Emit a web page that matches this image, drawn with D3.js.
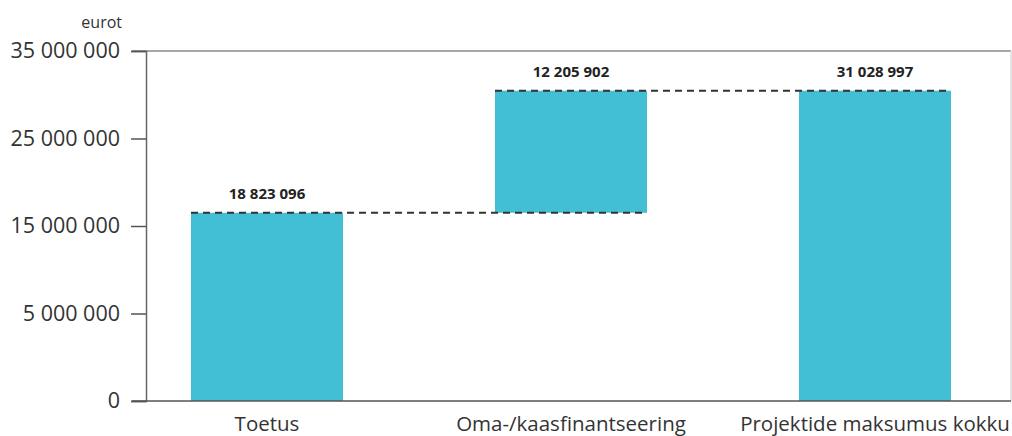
<!DOCTYPE html>
<html>
<head>
<meta charset="utf-8">
<script src="https://cdn.jsdelivr.net/npm/d3@7"></script>
<style>
  html, body { margin: 0; padding: 0; background: #fff; }
  svg { display: block; font-family: "Open Sans", "Noto Sans", sans-serif; }
</style>
</head>
<body>
<svg id="chart" width="1012" height="436"></svg>
<script>
// Waterfall: grant + own/co-financing = total project cost
const categories = ["Toetus", "Oma-/kaasfinantseering", "Projektide maksumus kokku"];
const values = [18823096, 12205902, 31028997];
const valueLabels = ["18 823 096", "12 205 902", "31 028 997"];
const tickValues = [0, 8750000, 17500000, 26250000, 35000000];
const tickLabels = ["0", "5 000 000", "15 000 000", "25 000 000", "35 000 000"];
const unitLabel = "eurot";

// bar extents: first starts at zero, second stacks on first, last is the total
const starts = [0, values[0], 0];
const ends = [values[0], values[0] + values[1], values[2]];

const svg = d3.select("#chart");
const plotLeft = 146, plotRight = 1011, plotTop = 51, plotBottom = 401;

const y = d3.scaleLinear().domain([0, 35000000]).range([plotBottom, plotTop]);
const x = d3.scaleBand().domain(categories).range([115, 1027])
  .paddingInner(0.5).paddingOuter(0.25);

// frame lines
svg.append("line").attr("x1", 132).attr("x2", plotRight).attr("y1", plotTop).attr("y2", plotTop)
  .attr("stroke", "#8a8a8a").attr("stroke-width", 1.5);
svg.append("line").attr("x1", plotRight).attr("x2", plotRight).attr("y1", plotTop).attr("y2", plotBottom)
  .attr("stroke", "#dcdcdc").attr("stroke-width", 1.5);

// bars
svg.append("g").selectAll("rect").data(categories).join("rect")
  .attr("x", d => x(d))
  .attr("width", x.bandwidth())
  .attr("y", (d, i) => y(ends[i]))
  .attr("height", (d, i) => y(starts[i]) - y(ends[i]))
  .attr("fill", "#43bfd5");

// dashed connectors
const connectors = [
  { v: ends[0], from: 0, to: 1 },
  { v: ends[1], from: 1, to: 2 }
];
svg.append("g").selectAll("line").data(connectors).join("line")
  .attr("x1", d => x(categories[d.from]))
  .attr("x2", d => x(categories[d.to]) + x.bandwidth())
  .attr("y1", d => y(d.v)).attr("y2", d => y(d.v))
  .attr("stroke", "#333").attr("stroke-width", 2)
  .attr("stroke-dasharray", "7,5");

// value labels
svg.append("g").selectAll("text").data(categories).join("text")
  .attr("x", d => x(d) + x.bandwidth() / 2)
  .attr("y", (d, i) => y(ends[i]) - 14)
  .attr("text-anchor", "middle")
  .attr("font-size", 15).attr("font-weight", "bold").attr("fill", "#222")
  .text((d, i) => valueLabels[i]);

// y axis
const yAxis = d3.axisLeft(y).tickValues(tickValues)
  .tickFormat((d, i) => tickLabels[i]).tickSize(15).tickPadding(11);
const gy = svg.append("g").attr("transform", `translate(${plotLeft},0)`).call(yAxis);
gy.select(".domain").attr("stroke", "#666").attr("stroke-width", 1.5);
gy.selectAll(".tick line").attr("stroke", "#555").attr("stroke-width", 1.5);
gy.selectAll(".tick text").attr("font-size", 21.5).attr("fill", "#333")
  .attr("font-family", "'Open Sans', 'Noto Sans', sans-serif");

// x axis baseline and category labels
svg.append("line").attr("x1", 132).attr("x2", plotRight).attr("y1", plotBottom).attr("y2", plotBottom)
  .attr("stroke", "#555").attr("stroke-width", 1.5);
svg.append("g").selectAll("text").data(categories).join("text")
  .attr("x", d => x(d) + x.bandwidth() / 2)
  .attr("y", 431)
  .attr("text-anchor", "middle")
  .attr("font-size", 20.5).attr("fill", "#333")
  .text(d => d);

// unit label
svg.append("text").attr("x", 122).attr("y", 28).attr("text-anchor", "end")
  .attr("font-size", 16).attr("fill", "#333").text(unitLabel);
</script>
</body>
</html>
